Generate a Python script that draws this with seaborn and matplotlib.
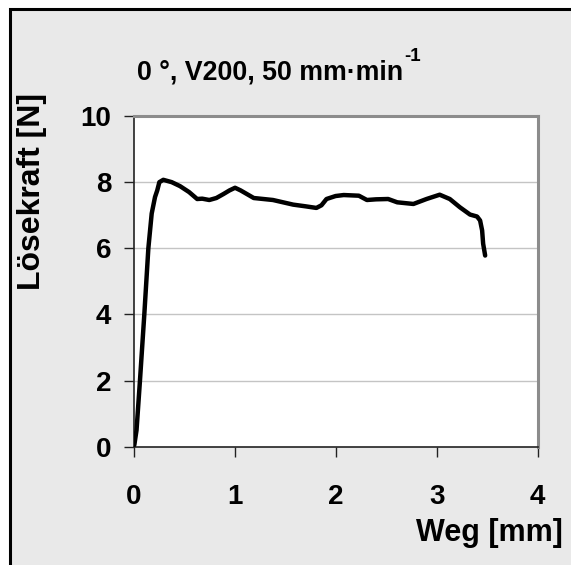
import matplotlib
matplotlib.use("Agg")
import matplotlib.pyplot as plt
from matplotlib.patches import Rectangle
import seaborn as sns
import pandas as pd

# Pull-off force over displacement
weg = [0.008, 0.03, 0.064, 0.107, 0.147, 0.18, 0.213, 0.235, 0.256, 0.295, 0.378,
       0.46, 0.55, 0.63, 0.68, 0.75, 0.82, 0.89, 0.95, 1.005, 1.06, 1.19, 1.38,
       1.58, 1.70, 1.81, 1.86, 1.91, 2.00, 2.08, 2.23, 2.31, 2.40, 2.52, 2.61,
       2.77, 2.90, 3.03, 3.13, 3.23, 3.33, 3.40, 3.43, 3.45, 3.46, 3.48]
kraft = [0.05, 0.50, 2.00, 4.00, 6.00, 7.05, 7.55, 7.75, 8.00, 8.07, 8.00,
         7.88, 7.70, 7.49, 7.50, 7.46, 7.52, 7.64, 7.75, 7.83, 7.75, 7.52, 7.46,
         7.32, 7.27, 7.22, 7.30, 7.49, 7.58, 7.61, 7.59, 7.46, 7.48, 7.49, 7.39,
         7.34, 7.49, 7.62, 7.49, 7.24, 7.02, 6.96, 6.84, 6.54, 6.14, 5.78]

x_ticks = [0, 1, 2, 3, 4]
y_ticks = [0, 2, 4, 6, 8, 10]
title = "0 °, V200, 50 mm·min"
title_exp = "-1"
x_label = "Weg [mm]"
y_label = "Lösekraft [N]"

sns.set_theme(style="white")
plt.rcParams["font.family"] = ["Liberation Sans", "DejaVu Sans"]
plt.rcParams["font.weight"] = "bold"
plt.rcParams["text.color"] = "black"

W, H = 571, 565
fig = plt.figure(figsize=(W / 100, H / 100), dpi=100, facecolor="white")

# gray panel with dark frame
fig.patches.append(Rectangle((10 / W, -0.05), 1.1, 1 - 9 / H + 0.05,
                             transform=fig.transFigure, facecolor="#e9e9e9",
                             edgecolor="black", linewidth=2.2, zorder=-10))

ax = fig.add_axes([133.5 / W, (H - 446.7) / H, (537.7 - 133.5) / W, (446.7 - 116) / H])
ax.set_zorder(1)
ax.set_facecolor("white")

df = pd.DataFrame({"Weg": weg, "Kraft": kraft})
sns.lineplot(data=df, x="Weg", y="Kraft", sort=False, color="black",
             linewidth=3.2, ax=ax, zorder=3)

ax.set_xlim(0, 4)
ax.set_ylim(0, 10)
ax.set_xticks(x_ticks)
ax.set_yticks(y_ticks)
ax.set_xticklabels([str(t) for t in x_ticks], fontsize=20, fontweight="bold")
ax.set_yticklabels([str(t) for t in y_ticks], fontsize=20, fontweight="bold")
for t in y_ticks[1:-1]:
    ax.axhline(t, color="#c4c4c4", linewidth=1.0, zorder=1)

ax.tick_params(axis="both", direction="out", length=7, width=1.0, color="#222222",
               bottom=True, left=True, labelcolor="black")
ax.tick_params(axis="x", pad=20)
ax.tick_params(axis="y", pad=9)

for side in ("left", "bottom"):
    ax.spines[side].set_color("#222222")
    ax.spines[side].set_linewidth(1.2)
for side in ("top", "right"):
    ax.spines[side].set_color("#8c8c8c")
    ax.spines[side].set_linewidth(2.2)

ax.set_xlabel("")
ax.set_ylabel("")
fig.text(563 / W, 1 - 533 / H, x_label, ha="right", va="center",
         fontsize=22, fontweight="bold")
fig.text(32 / W, 1 - 192 / H, y_label, ha="center", va="center",
         rotation=90, fontsize=23, fontweight="bold")

# title with raised exponent
t = fig.text(137 / W, 1 - 72 / H, title, ha="left", va="center",
             fontsize=19.3, fontweight="bold")
renderer = fig.canvas.get_renderer()
bb = t.get_window_extent(renderer=renderer)
fig.text(bb.x1 + 1, bb.y1 - 6, title_exp, ha="left", va="bottom",
         transform=None, fontsize=13.5, fontweight="bold")

fig.savefig("out.png", dpi=100, facecolor="white")
